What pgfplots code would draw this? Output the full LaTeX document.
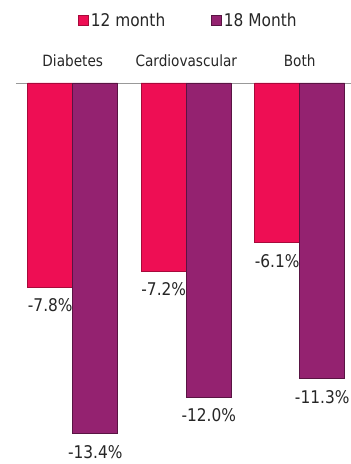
\documentclass[border=0pt]{standalone}
\usepackage{pgfplots}
\pgfplotsset{compat=1.18}
\usepackage{fontspec}
\setmainfont{DejaVu Sans}[FakeStretch=0.88]
\definecolor{cRed}{RGB}{238,14,84}
\definecolor{cPur}{RGB}{148,34,112}
\begin{document}
\begin{tikzpicture}
\begin{axis}[
  name=ax,
  scale only axis, width=334.8pt, height=379pt,
  xmin=-0.5, xmax=2.45, ymin=-14.49, ymax=0,
  axis x line*=top, axis y line=none,
  x axis line style={-, draw=black!40, line width=0.8pt},
  xtick={0,1,2},
  xticklabels={Diabetes,Cardiovascular,Both},
  major x tick style={draw=none},
  xticklabel style={font=\fontsize{15.5}{15.5}\selectfont, text=black!85, yshift=8pt},
  extra x ticks={-0.5,0.5,1.5},
  extra x tick labels={},
  extra x tick style={major tick length=5pt, tick align=outside, tick style={draw=black!40, line width=0.8pt}},
  ytick=\empty,
  ybar=0pt, bar width=45pt,
  /pgf/number format/assume math mode=true,
  nodes near coords={\pgfmathprintnumber[fixed,fixed zerofill,precision=1]{\pgfplotspointmeta}\%},
  every node near coord/.append style={anchor=north, yshift=-8pt, font=\fontsize{17.5}{17.5}\selectfont, text=black!85},
  legend style={at={(0.515,1.165)}, anchor=center, draw=none, fill=none,
    legend columns=2, font=\fontsize{17.5}{17.5}\selectfont, text=black!85,
    /tikz/every even column/.append style={column sep=44pt}},
  legend image code/.code={\fill[#1] (0pt,-5pt) rectangle (10pt,5pt);},
  clip=false,
]
\addplot[fill=cRed, draw=cRed!70!black, line width=0.6pt] coordinates {(0,-7.8) (1,-7.2) (2,-6.1)};
\addplot[fill=cPur, draw=cPur!60!black, line width=0.6pt] coordinates {(0,-13.4) (1,-12.0) (2,-11.3)};
\legend{12 month, 18 Month}
\end{axis}
\pgfresetboundingbox
\path[use as bounding box] ([xshift=-16pt,yshift=-2pt]ax.south west) rectangle ([yshift=83pt]ax.north east);
\end{tikzpicture}
\end{document}
